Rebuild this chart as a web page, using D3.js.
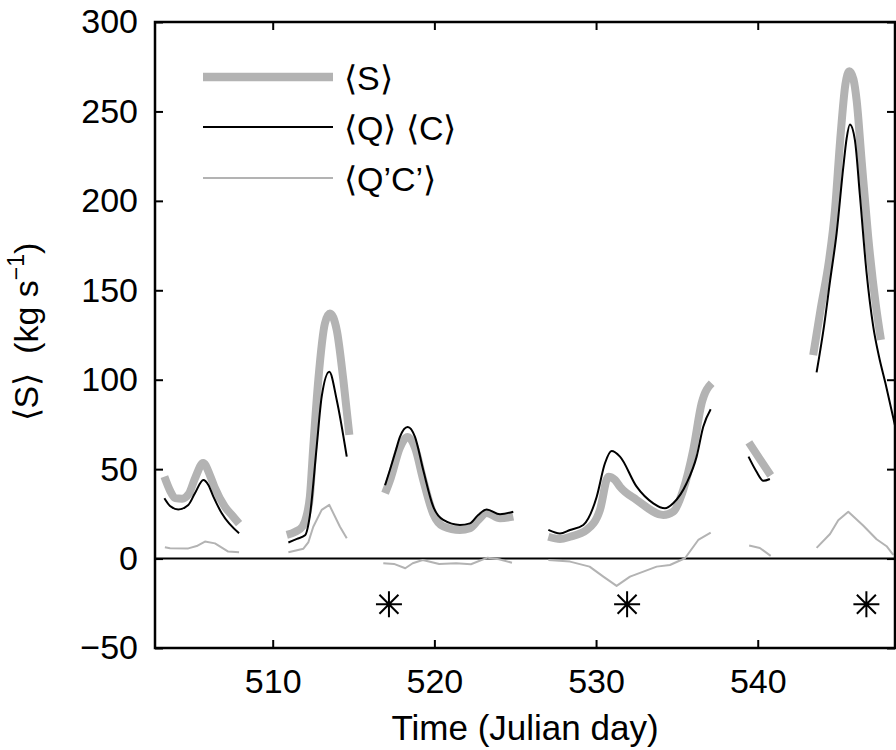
<!DOCTYPE html>
<html>
<head>
<meta charset="utf-8">
<script src="https://cdn.jsdelivr.net/npm/d3@7"></script>
<style>
  body { margin: 0; background: #fff; }
  text { font-family: "Liberation Sans", Arial, Helvetica, sans-serif; }
</style>
</head>
<body>
<svg id="chart" width="896" height="750"></svg>
<script>
"use strict";

// tick values
const xTicks = [510, 520, 530, 540];
const yTicks = [-50, 0, 50, 100, 150, 200, 250, 300];

// <S> : total flux, one array per gap-free stretch  [day, kg/s]
const meanS = [
  [[503.30,45.8],[503.65,38],[503.96,33.8],[504.4,33.5],[504.8,36],[505.2,45],[505.7,53.5],[506.1,47],
   [506.4,40],[507.04,29],[507.5,24],[507.92,19.5]],
  [[510.87,13.2],[511.4,15],[511.85,18],[512.1,24],[512.3,34.6],[512.51,62.5],[512.82,99.8],
   [513.23,131.5],[513.54,137],[513.96,127.8],[514.37,99.8],[514.74,69.1]],
  [[516.95,36.5],[517.3,45],[517.87,62],[518.35,68],[518.8,62],[519.31,44],[519.93,25],[520.55,18],
   [521.58,16],[522.2,17],[522.71,21.5],[523.23,25.5],[524.06,22.5],[524.88,23.5]],
  [[527.05,12.2],[527.77,11],[528.39,12.2],[529.42,16],[530.24,27.2],[530.76,45.8],[531.17,44],
   [531.48,40.2],[532.51,32.8],[534.16,24.4],[534.77,26.2],[535.39,38.3],[536.01,60.7],[536.53,86.8],
   [537.15,98]],
  [[539.45,65],[540.1,56],[540.8,46.5]],
  [[543.43,113.7],[543.9,140],[544.4,166],[544.78,195],[545.1,234],[545.42,265],[545.67,272.5],
   [545.92,268],[546.12,256],[546.43,222],[546.83,180],[547.3,142],[547.62,122.3]]
];

// <Q><C> : product of the means
const meanQC = [
  [[503.30,33.7],[503.65,29.4],[504.16,27.5],[504.78,30],[505.19,36.5],[505.71,43.9],[506.02,41.1],
   [506.33,34.6],[506.85,25.3],[507.92,14.1]],
  [[510.97,9],[511.5,11],[512.0,13],[512.3,24],[512.72,62.5],[513.03,90.5],[513.5,104.5],
   [513.96,88.7],[514.58,57]],
  [[516.95,41],[517.25,49.5],[517.6,60],[517.87,68],[518.35,73.5],[518.8,68],[519.31,49.5],
   [519.93,29],[520.55,21.6],[521.58,18.8],[522.2,19.7],[522.71,24.4],[523.23,27.5],[524.06,24.8],
   [524.88,26.2]],
  [[527.05,16],[527.77,14],[528.39,16],[529.21,18.8],[530.04,34.6],[530.55,53.3],[530.96,60.1],
   [531.48,57],[532.51,40.2],[533.54,30.9],[534.26,28.1],[534.77,30.9],[535.6,42.1],[536.22,57],
   [536.63,73.7],[537.09,83.5]],
  [[539.43,57],[539.9,49],[540.35,43.5],[540.75,44.5]],
  [[543.64,104.1],[544.1,130],[544.47,155],[544.88,182],[545.29,218.7],[545.5,235],[545.7,242.7],
   [546.01,234],[546.32,203],[546.73,160],[547.14,130],[547.5,113],[547.9,98],[548.55,72]]
];

// <Q'C'> : covariance term
const meanQpCp = [
  [[503.33,6.3],[503.65,5.8],[504.78,5.7],[505.3,7],[505.81,9.5],[506.43,8.5],[507.25,3.9],[507.92,3.5]],
  [[510.97,3.5],[511.9,5.5],[512.2,9],[512.51,17.8],[513.03,27.2],[513.5,30],[514.16,17.8],[514.58,11.3]],
  [[516.84,-2.6],[517.5,-3],[518.2,-5.4],[518.66,-2.6],[519.28,-0.8],[520.3,-3],[521.34,-2.6],
   [522.26,-3.2],[523.29,0.5],[524.0,-0.4],[524.8,-2.3]],
  [[527.05,-0.8],[528.39,-1.7],[529.6,-4.5],[530.45,-10.1],[531.27,-15.3],[532.1,-10.1],[533.75,-4.5],
   [534.57,-3.6],[535.5,0.2],[536.32,10.4],[537.09,14.5]],
  [[539.47,7.3],[540.13,5.9],[540.8,1.5]],
  [[543.64,6],[544.47,13.7],[544.98,21.4],[545.6,26.2],[546.52,18.5],[547.35,10.8],[547.97,6.9],[548.38,2.1]]
];

// asterisk markers
const starDays = [517.19, 531.92, 546.72];
const starValue = -25.5;

const legendLabels = ["\u27E8S\u27E9", "\u27E8Q\u27E9 \u27E8C\u27E9", "\u27E8Q\u2019C\u2019\u27E9"];

const svg = d3.select("#chart");
const plotLeft = 155, plotRight = 895, plotTop = 22, plotBottom = 648;
const gray = "#b3b3b3";
const fontSize = 34;

const x = d3.scaleLinear().domain([502.72, 548.49]).range([plotLeft, plotRight]);
const y = d3.scaleLinear().domain([-50, 300]).range([plotBottom, plotTop]);

svg.append("clipPath").attr("id", "plotClip")
  .append("rect").attr("x", plotLeft).attr("y", plotTop)
  .attr("width", plotRight - plotLeft).attr("height", plotBottom - plotTop);

const plot = svg.append("g").attr("clip-path", "url(#plotClip)");

// zero line
plot.append("line")
  .attr("x1", plotLeft).attr("x2", plotRight).attr("y1", y(0)).attr("y2", y(0))
  .attr("stroke", "#000").attr("stroke-width", 2);

const line = d3.line().x(d => x(d[0])).y(d => y(d[1])).curve(d3.curveMonotoneX);
const rough = d3.line().x(d => x(d[0])).y(d => y(d[1]));

plot.selectAll(".s").data(meanS).enter().append("path")
  .attr("d", line).attr("fill", "none").attr("stroke", gray).attr("stroke-width", 8)
  .attr("stroke-linejoin", "round");

plot.selectAll(".qc").data(meanQC).enter().append("path")
  .attr("d", line).attr("fill", "none").attr("stroke", "#000").attr("stroke-width", 2)
  .attr("stroke-linejoin", "round");

plot.selectAll(".qpcp").data(meanQpCp).enter().append("path")
  .attr("d", rough).attr("fill", "none").attr("stroke", gray).attr("stroke-width", 2)
  .attr("stroke-linejoin", "round");

// asterisks (plus + cross)
const r = 13, rd = 9.5;
plot.selectAll(".star").data(starDays).enter().append("path")
  .attr("transform", d => "translate(" + x(d) + "," + y(starValue) + ")")
  .attr("d", "M0,-" + r + "V" + r + "M-" + r + ",0H" + r +
             "M-" + rd + ",-" + rd + "L" + rd + "," + rd + "M-" + rd + "," + rd + "L" + rd + ",-" + rd)
  .attr("stroke", "#000").attr("stroke-width", 2).attr("fill", "none");

// axes, ticks pointing inwards on all four sides
function styleAxis(g) {
  g.select(".domain").remove();
  g.selectAll(".tick line").attr("stroke-width", 2);
  g.attr("font-size", fontSize).attr("font-family", null);
}

svg.append("g").attr("transform", "translate(0," + plotBottom + ")")
  .call(d3.axisBottom(x).tickValues(xTicks).tickSize(-8).tickPadding(21))
  .call(styleAxis);
svg.append("g").attr("transform", "translate(0," + plotTop + ")")
  .call(d3.axisTop(x).tickValues(xTicks).tickSize(-8).tickFormat(""))
  .call(styleAxis);
svg.append("g").attr("transform", "translate(" + plotLeft + ",0)")
  .call(d3.axisLeft(y).tickValues(yTicks).tickSize(-8).tickPadding(17))
  .call(styleAxis);
svg.append("g").attr("transform", "translate(" + plotRight + ",0)")
  .call(d3.axisRight(y).tickValues(yTicks).tickSize(-8).tickFormat(""))
  .call(styleAxis);

svg.append("rect")
  .attr("x", plotLeft).attr("y", plotTop)
  .attr("width", plotRight - plotLeft).attr("height", plotBottom - plotTop)
  .attr("fill", "none").attr("stroke", "#000").attr("stroke-width", 2.5);

// axis titles
svg.append("text")
  .attr("x", (plotLeft + plotRight) / 2).attr("y", 740)
  .attr("text-anchor", "middle").attr("font-size", 35)
  .text("Time (Julian day)");

const yTitle = svg.append("text")
  .attr("transform", "translate(38,332) rotate(-90)")
  .attr("text-anchor", "middle").attr("font-size", fontSize);
yTitle.append("tspan").text("\u27E8S\u27E9\u00A0\u00A0(kg\u00A0s");
yTitle.append("tspan").attr("font-size", 23).attr("dy", -14).text("\u22121");
yTitle.append("tspan").attr("dy", 14).text(")");

// legend
const legendY = [77, 127, 178];
const legendWidth = [8.5, 2, 2];
const legendColor = [gray, "#000", gray];
const legend = svg.append("g");
legendLabels.forEach((lab, i) => {
  legend.append("line")
    .attr("x1", 203).attr("x2", 333).attr("y1", legendY[i]).attr("y2", legendY[i])
    .attr("stroke", legendColor[i]).attr("stroke-width", legendWidth[i]);
  legend.append("text")
    .attr("x", 344).attr("y", legendY[i] + 13)
    .attr("font-size", fontSize).text(lab);
});
</script>
</body>
</html>
